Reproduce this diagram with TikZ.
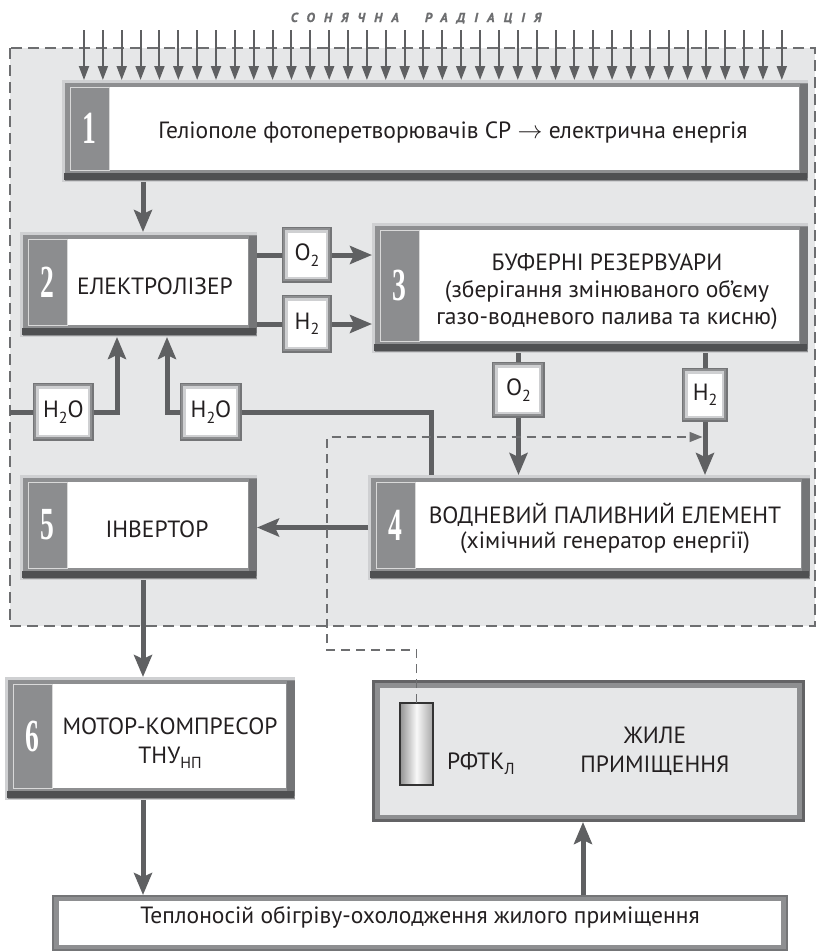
\documentclass[tikz,border=0pt]{standalone}
\usepackage{fontspec}
\setmainfont{PT Sans}
\newfontfamily\numfont{Liberation Serif}
\newfontfamily\ttlfont[LetterSpace=70, UprightFont=* Bold Italic, FakeBold=1.2]{PT Sans}
\usetikzlibrary{arrows.meta}
\definecolor{bgc}{HTML}{E6E7E8}
\definecolor{dashc}{HTML}{6D6E70}
\definecolor{flowc}{HTML}{5F6062}
\definecolor{rimc}{HTML}{CFD0D2}
\definecolor{frc}{HTML}{8E8F91}
\definecolor{frd}{HTML}{747577}
\definecolor{dkc}{HTML}{4F5052}
\definecolor{panelc}{HTML}{8C8D8F}
\definecolor{inkc}{HTML}{231F20}
\newcommand{\lsub}[1]{\raisebox{-0.45ex}{\fontsize{16}{16}\selectfont #1}}
\tikzset{
  x=1pt, y=-1pt,
  flow/.style={draw=flowc, line width=5pt, line join=miter, -{Stealth[length=22pt,width=18pt,inset=4pt]}},
  pipe/.style={draw=flowc, line width=5pt, line join=miter},
  sunarrow/.style={draw=flowc, line width=2pt, -{Triangle[length=14pt,width=10pt]}},
  dashln/.style={draw=dashc, line width=1.6pt, dash pattern=on 9pt off 6pt},
  txt/.style={font=\fontsize{23.5}{27}\selectfont, text=inkc, inner sep=0pt, anchor=base},
  numst/.style={font=\numfont\bfseries\fontsize{46}{46}\selectfont, text=white, inner sep=0pt},
  hitbox/.style={inner sep=0pt, outer sep=0pt},
  gastxt/.style={font=\fontsize{23.5}{27}\selectfont, text=inkc, inner sep=0pt, outer sep=0pt},
}
\newcommand{\bevbox}[6]{%
  \fill[rimc] ({#2},{#3}) rectangle ({#4},{#5});
  \fill[frc] ({#2+3},{#3+3}) rectangle ({#4},{#5-1});
  \fill[frd] ({#4-8},{#3+4}) rectangle ({#4},{#5-4});
  \fill[dkc] ({#2+2},{#5-9}) rectangle ({#4-1},{#5-2});
  \fill[white] ({#2+8},{#3+7}) rectangle ({#4-9},{#5-12});
  \filldraw[fill=panelc, draw=white!85!black, line width=0.8pt] ({#2+8},{#3+7}) rectangle ({#2+47},{#5-12});
  \node[numst] at ({#2+27.5},{(#3+#5-5)/2}) {\scalebox{0.6}[1]{#6}};
  \node[hitbox, minimum width={(#4-#2)*1pt}, minimum height={(#5-#3)*1pt}] (#1) at ({(#2+#4)/2},{(#3+#5)/2}) {};
}
\newcommand{\gasbox}[6]{%
  \fill[frd] ({#2},{#3}) rectangle ({#4},{#5});
  \fill[frc] ({#2+1},{#3+1}) rectangle ({#4-2},{#5-2});
  \fill[rimc] ({#2+3},{#3+3}) rectangle ({#4-4},{#5-4});
  \fill[white] ({#2+6},{#3+6}) rectangle ({#4-6},{#5-6});
  \node[gastxt, minimum width={(#4-#2)*1pt}, minimum height={(#5-#3)*1pt}] (#1) at ({(#2+#4)/2},{(#3+#5)/2}) {#6};
}
\begin{document}
\begin{tikzpicture}
\useasboundingbox (0,0) rectangle (817,951);
\fill[white] (0,0) rectangle (817,951);
% region
\fill[bgc] (10,48) rectangle (815,626);
\draw[draw=dashc, line width=1.2pt, dash pattern=on 11pt off 6pt] (10,48) rectangle (815,626);
% title
\node[font=\ttlfont\fontsize{13}{13}\selectfont, text=dashc, inner sep=0pt, anchor=base] (title) at (416,22) {СОНЯЧНА\hspace{26pt}РАДІАЦІЯ};
% blocks
\bevbox{b1}{62}{80}{808}{182}{1}
\bevbox{b2}{20}{232}{257}{337}{2}
\bevbox{b3}{372}{223}{808}{353}{3}
\bevbox{b4}{368}{475}{810}{580}{4}
\bevbox{b5}{20}{475}{257}{580}{5}
\bevbox{b6}{5}{677}{295}{800}{6}
% sun arrows
\foreach \i in {0,...,37} {
  \coordinate (s\i) at ({84+\i*18.86},30);
  \draw[sunarrow] (s\i) -- (s\i |- b1.north);
}
% block texts
\node[txt] (t1) at (453,138) {Геліополе фотоперетворювачів СР $\rightarrow$ електрична енергія};
\node[txt] (t2) at (155,294) {ЕЛЕКТРОЛІЗЕР};
\node[txt] (t3a) at (607,270.5) {БУФЕРНІ РЕЗЕРВУАРИ};
\node[txt] (t3b) at (607,297) {(зберігання змінюваного об’єму};
\node[txt] (t3c) at (607,324) {газо-водневого палива та кисню)};
\node[txt] (t4a) at (605,523) {ВОДНЕВИЙ ПАЛИВНИЙ ЕЛЕМЕНТ};
\node[txt] (t4b) at (605,548) {(хімічний генератор енергії)};
\node[txt] (t5) at (157,537) {ІНВЕРТОР};
\node[txt] (t6a) at (170,734) {МОТОР-КОМПРЕСОР};
\node[txt] (t6b) at (170,763) {ТНУ\lsub{НП}};
% gas boxes
\gasbox{o2a}{282}{227}{332}{283}{O\lsub{2}}
\gasbox{h2a}{282}{295}{332}{353}{H\lsub{2}}
\gasbox{o2b}{492}{362}{545}{418}{O\lsub{2}}
\gasbox{h2b}{682}{368}{728}{422}{H\lsub{2}}
\gasbox{w1}{33}{383}{94}{441}{H\lsub{2}O}
\gasbox{w2}{180}{383}{242}{441}{H\lsub{2}O}
% room
\fill[frd!85!black] (372,680) rectangle (805,822);
\fill[frc] (375,683) rectangle (802,819);
\fill[bgc] (380,688) rectangle (797,815);
\node[hitbox, minimum width=433pt, minimum height=142pt] (room) at (588.5,751) {};
\node[txt] (r1) at (655,743) {ЖИЛЕ};
\node[txt] (r2) at (655,772) {ПРИМІЩЕННЯ};
\node[txt, anchor=base west] (rf) at (447,769) {РФТК\lsub{Л}};
% sensor
\shade[left color=gray!85, right color=gray!70, middle color=white!95!gray] (400,703) rectangle (433,785);
\draw[black!80, line width=1.2pt] (400,703) rectangle (433,785);
\node[hitbox, minimum width=33pt, minimum height=82pt] (sens) at (416.5,744) {};
% heat carrier box
\fill[frd] (52,895) rectangle (788,951);
\fill[frc] (54,897) rectangle (786,949);
\fill[white] (59,901) rectangle (781,945);
\node[hitbox, minimum width=736pt, minimum height=56pt] (heat) at (420,923) {};
\node[txt] (th) at (420,923) {Теплоносій обігріву-охолодження жилого приміщення};
% connectors
\coordinate (x143) at (143,0);
\coordinate (x583) at (583,0);
\coordinate (win) at (10,412);
\coordinate (k1) at (117,412);
\coordinate (k2) at (167,412);
\coordinate (k3) at (431,412);
\coordinate (d1) at (327,650);
\coordinate (d2) at (327,437);
\draw[flow] (b1.south -| x143) -- (b2.north -| x143);
\draw[pipe] (b2.east |- o2a) -- (o2a.west);
\draw[flow] (o2a.east) -- (b3.west |- o2a);
\draw[pipe] (b2.east |- h2a) -- (h2a.west);
\draw[flow] (h2a.east) -- (b3.west |- h2a);
\draw[pipe] (b3.south -| o2b) -- (o2b.north);
\draw[flow] (o2b.south) -- (b4.north -| o2b);
\draw[pipe] (b3.south -| h2b) -- (h2b.north);
\draw[flow] (h2b.south) -- (b4.north -| h2b);
\draw[pipe] (win) -- (w1.west);
\draw[flow] (w1.east) -| (b2.south -| k1);
\draw[pipe] (b4.north -| k3) |- (w2.east);
\draw[flow] (w2.west) -| (b2.south -| k2);
\draw[flow] (b4.west |- b5) -- (b5.east);
\draw[flow] (b5.south -| x143) -- (b6.north -| x143);
\draw[flow] (b6.south -| x143) -- (heat.north -| x143);
\draw[flow] (heat.north -| x583) -- (room.south -| x583);
\draw[dashln, -{Triangle[length=13pt,width=10pt]}, shorten >=2.5pt] (sens.north) |- (d1) -- (d2) -- (d2 -| h2b);
\end{tikzpicture}
\end{document}
